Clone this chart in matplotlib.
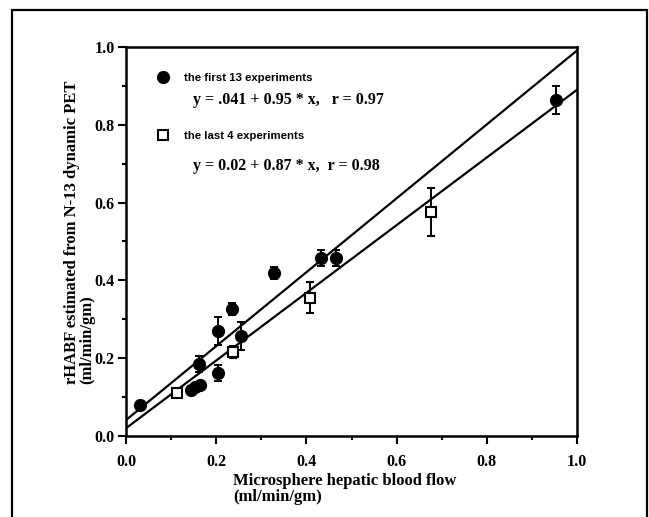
import numpy as np
import matplotlib
matplotlib.use("Agg")
import matplotlib.pyplot as plt
from matplotlib.patches import Rectangle

# first 13 experiments (filled circles)
first_x = [0.03, 0.145, 0.152, 0.163, 0.162, 0.204, 0.204, 0.235, 0.255, 0.328, 0.432, 0.466, 0.953]
first_y = [0.080, 0.118, 0.125, 0.132, 0.185, 0.162, 0.270, 0.326, 0.257, 0.419, 0.457, 0.457, 0.864]
first_err = [0.0, 0.0, 0.0, 0.0, 0.02, 0.02, 0.035, 0.015, 0.035, 0.015, 0.02, 0.02, 0.035]

# last 4 experiments (open squares)
last_x = [0.113, 0.237, 0.408, 0.676]
last_y = [0.110, 0.216, 0.355, 0.576]
last_err = [0.0, 0.015, 0.04, 0.062]

# regression fits: intercept, slope
fit_first = (0.041, 0.95)
fit_last = (0.02, 0.87)

W, H = 649, 517
fig = plt.figure(figsize=(W / 100, H / 100), dpi=100)
ax = fig.add_axes([126 / W, 1 - 436 / H, (577 - 126) / W, (436 - 47) / H])

serif = "Liberation Serif"

# regression lines
xs = np.array([0.0, 1.0])
for b, m in (fit_first, fit_last):
    ax.plot(xs, b + m * xs, color="black", lw=1.6, zorder=2)

ax.errorbar(first_x, first_y, yerr=first_err, fmt="o", color="black",
            ms=8.5, elinewidth=1.4, capsize=3, capthick=1.4, zorder=3)
ax.errorbar(last_x, last_y, yerr=last_err, fmt="s", color="black",
            mfc="white", mec="black", mew=1.5, ms=7,
            elinewidth=1.4, capsize=3, capthick=1.4, zorder=4)

ax.set_xlim(0, 1)
ax.set_ylim(0, 1)
ticks = np.arange(0, 1.01, 0.2)
ax.set_xticks(ticks)
ax.set_yticks(ticks)
ax.set_xticks(np.arange(0.1, 1.0, 0.2), minor=True)
ax.set_yticks(np.arange(0.1, 1.0, 0.2), minor=True)
ax.set_xticklabels([f"{t:.1f}" for t in ticks])
ax.set_yticklabels([f"{t:.1f}" for t in ticks])
ax.tick_params(which="major", direction="out", length=6, width=1.5,
               labelsize=11.5)
ax.tick_params(axis="x", which="major", pad=7)
ax.tick_params(axis="y", which="major", pad=2)
ax.tick_params(which="minor", direction="out", length=3, width=1.5)
for lab in ax.get_xticklabels() + ax.get_yticklabels():
    lab.set_fontfamily(serif)
    lab.set_fontweight("bold")
for sp in ax.spines.values():
    sp.set_linewidth(1.8)

# legend
h1 = plt.Line2D([], [], marker="o", ls="none", color="black", ms=8.5)
h2 = plt.Line2D([], [], marker="s", ls="none", mfc="white", mec="black", mew=1.5, ms=7)
leg = ax.legend([h1, h2], ["the first 13 experiments", "the last 4 experiments"],
                loc="upper left", bbox_to_anchor=(152 / W, 1 - 67 / H),
                bbox_transform=fig.transFigure, frameon=False, numpoints=1,
                handlelength=1.0, handletextpad=1.3, labelspacing=4.2,
                borderpad=0, prop={"family": "Liberation Sans", "weight": "bold", "size": 8.2})

eq_style = dict(family=serif, weight="bold", fontsize=11.5, va="center", ha="left")
fig.text(193 / W, 1 - 100 / H, "y = .041 + 0.95 * x,   r = 0.97", **eq_style)
fig.text(193 / W, 1 - 166 / H, "y = 0.02 + 0.87 * x,  r = 0.98", **eq_style)

# axis labels
lab_style = dict(family=serif, weight="bold", fontsize=12)
fig.text(233 / W, 1 - 489 / H, "Microsphere hepatic blood flow\n(ml/min/gm)",
         ha="left", va="center", linespacing=0.95, **lab_style)
fig.text(80 / W, 1 - 232 / H, "rHABF estimated from N-13 dynamic PET\n(ml/min/gm)",
         ha="center", va="center", rotation=90,
         multialignment="left", linespacing=0.95, **lab_style)

# outer frame of the scanned figure
fig.add_artist(Rectangle((12 / W, -0.05), (647 - 12) / W, 1.05 - 10 / H,
                         transform=fig.transFigure, fill=False, lw=1.6,
                         ec="black"))

fig.savefig("out.png", dpi=100)
